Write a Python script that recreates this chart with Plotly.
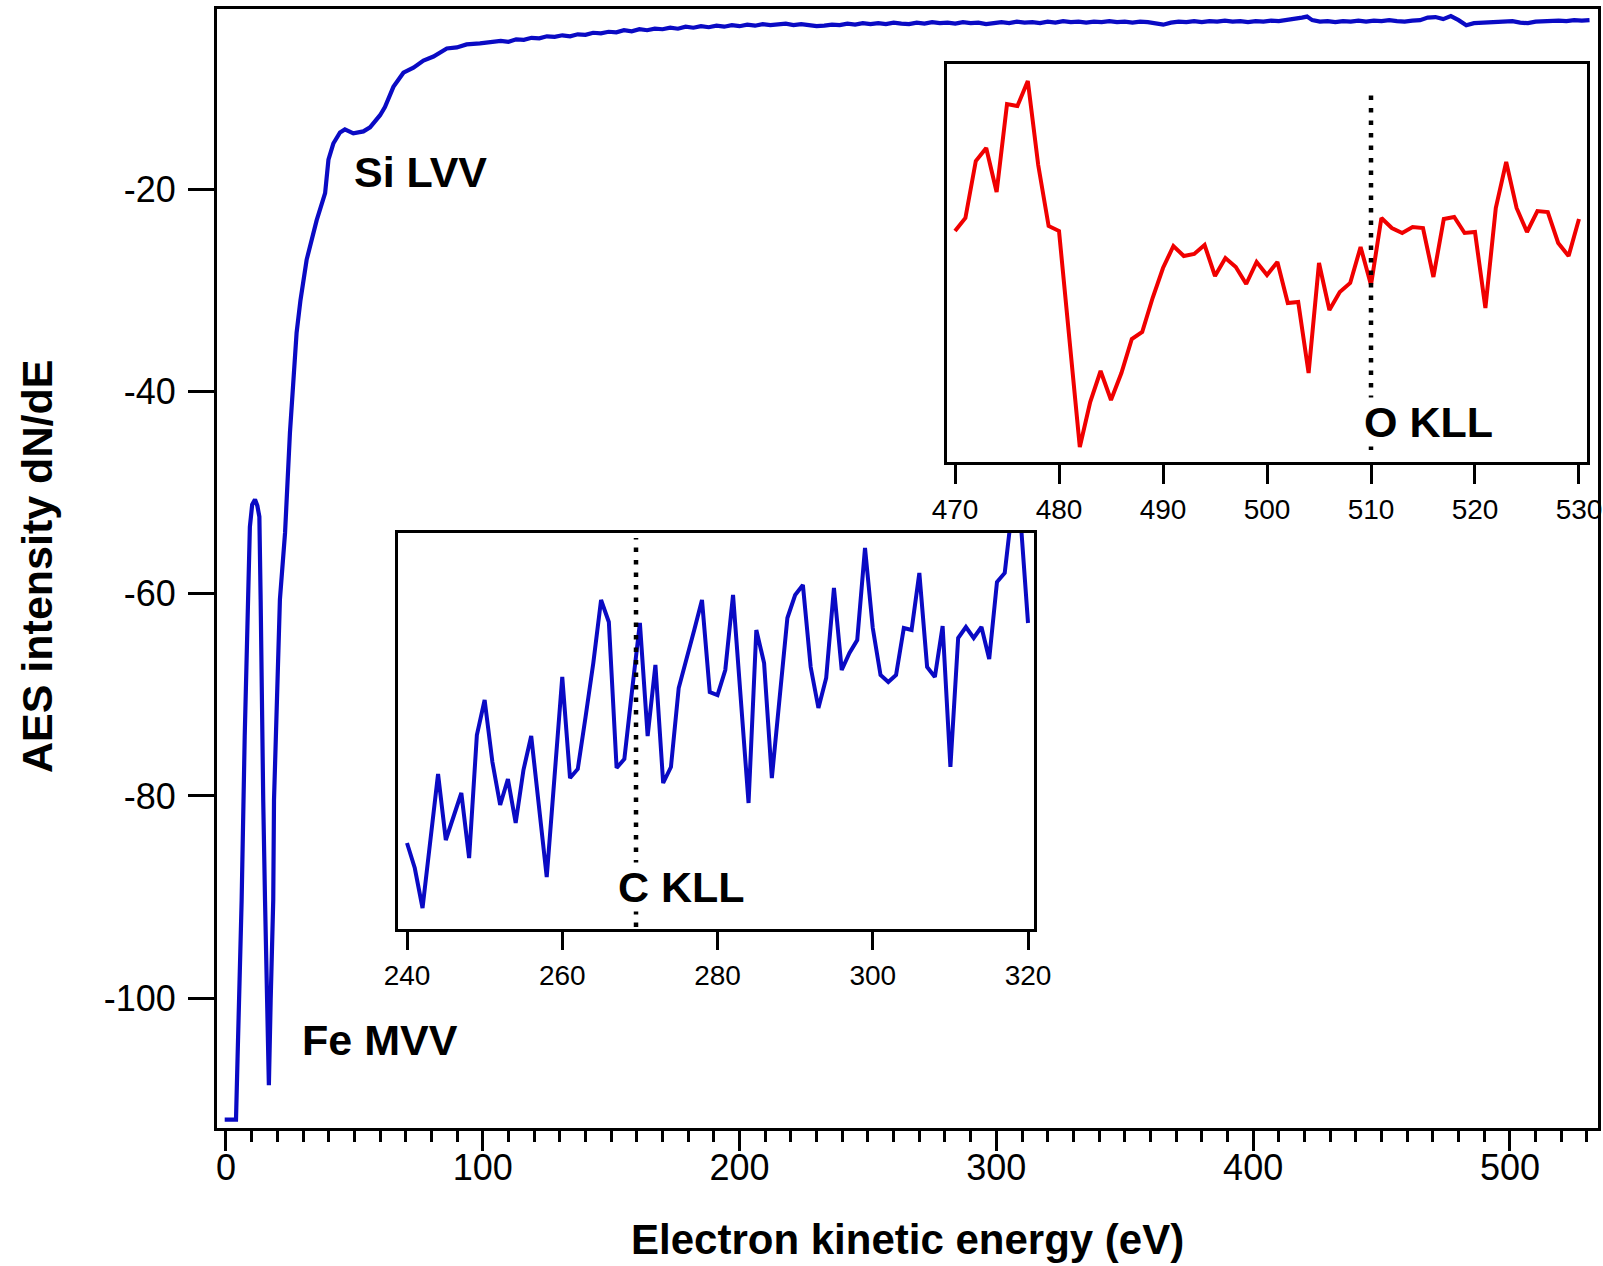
import plotly.graph_objects as go

# ---------------- main spectrum ----------------
main_energy = [-0.5, 2.0, 3.9, 4.5, 5.3, 6.1, 7.3, 8.4, 9.3, 10.2, 11.3, 12.2, 13.0, 13.5, 13.8, 14.5, 15.2,
               15.8, 16.7, 17.4, 18.4, 18.7, 20.0, 21.0, 23.0, 24.9, 27.5, 29.0, 31.4, 35.3, 38.6, 39.9,
               41.8, 44.4, 46.3, 49.6, 53.5, 56.1, 60.0, 61.9, 65.2, 69.1, 73.0, 76.9, 80.8, 86.0, 89.9,
               93.7, 98.9, 104.1,
               107, 110, 113, 116, 119, 122, 125, 128, 131, 134, 137, 140, 143, 146, 149, 152, 155, 158,
               161, 164, 167, 170, 173, 176, 179, 182, 185, 188, 191, 194, 197, 200, 203, 206, 209, 212,
               215, 218, 221, 224, 227, 230, 233, 236, 239, 242, 245, 248, 251, 254, 257, 260, 263, 266,
               269, 272, 275, 278, 281, 284, 287, 290, 293, 296, 299, 302, 305, 308, 311, 314, 317, 320,
               323, 326, 329, 332, 335, 338, 341, 344, 347, 350, 353, 356, 359, 362, 365, 368, 371, 374,
               377, 380, 383, 386, 389, 392, 395, 398, 401, 404, 407, 410, 413, 416, 419, 421, 423, 426,
               429, 432, 435, 438, 441, 444, 447, 450, 453, 456, 459, 462, 465, 468, 471, 474, 477, 480,
               483, 486, 489, 492, 495, 498, 501, 504, 507, 510, 513, 516, 519, 522, 525, 528, 531]
main_intensity = [-112.0, -112.0, -112.0, -106.0, -98.0, -90.3, -74.0, -60.6, -53.4, -51.2, -50.7, -51.3, -52.4,
                  -60.6, -70.5, -80.4, -90.3, -100.2, -108.6, -100.2, -90.3, -80.4, -70.5, -60.6, -54.0,
                  -44.1, -34.2, -31.0, -27.0, -23.1, -20.4, -17.1, -15.5, -14.4, -14.1, -14.5, -14.3,
                  -13.9, -12.7, -11.9, -9.9, -8.5, -8.0, -7.3, -6.9, -6.1, -6.0, -5.7, -5.6, -5.5,
                  -5.35, -5.45, -5.2, -5.25, -5.05, -5.1, -4.9, -4.95, -4.8, -4.9, -4.7, -4.75, -4.55, -4.6,
                  -4.45, -4.5, -4.3, -4.4, -4.2, -4.3, -4.15, -4.2, -4.05, -4.15, -3.95, -4.05, -3.9, -4.0,
                  -3.85, -3.95, -3.8, -3.9, -3.75, -3.85, -3.7, -3.8, -3.75, -3.65, -3.8, -3.7, -3.8, -3.9,
                  -3.85, -3.75, -3.8, -3.65, -3.75, -3.6, -3.7, -3.6, -3.7, -3.55, -3.65, -3.7, -3.55, -3.65,
                  -3.5, -3.6, -3.55, -3.65, -3.5, -3.6, -3.55, -3.7, -3.6, -3.5, -3.6, -3.45, -3.55, -3.5,
                  -3.6, -3.45, -3.55, -3.4, -3.5, -3.45, -3.55, -3.45, -3.5, -3.4, -3.5, -3.45, -3.55, -3.45,
                  -3.5, -3.6, -3.75, -3.55, -3.45, -3.5, -3.4, -3.5, -3.4, -3.45, -3.35, -3.45, -3.4, -3.5,
                  -3.4, -3.45, -3.35, -3.4, -3.3, -3.25, -3.05, -2.95, -3.3, -3.45, -3.4, -3.5, -3.4, -3.45,
                  -3.35, -3.45, -3.35, -3.4, -3.3, -3.4, -3.45, -3.35, -3.3, -3.05, -3.0, -3.2, -2.9, -3.3,
                  -3.8, -3.6, -3.55, -3.5, -3.45, -3.5, -3.4, -3.55, -3.6, -3.45, -3.4, -3.45, -3.35, -3.4,
                  -3.3, -3.35, -3.3]

main_xticks = [0, 100, 200, 300, 400, 500]
main_xticks_mid = [50, 150, 250, 350, 450]
main_yticks = [-20, -40, -60, -80, -100]
main_yticktext = ["-20", "-40", "-60", "-80", "-100"]

# ---------------- O KLL inset (red) ----------------
o_energy = list(range(470, 531))
o_intensity = [23.1, 24.4, 30.1, 31.4, 27.0, 35.8, 35.6, 38.1, 29.7, 23.6,
               23.1, 12.4, 1.5, 6.0, 9.1, 6.2, 8.9, 12.3, 13.0, 16.4,
               19.4, 21.6, 20.6, 20.8, 21.7, 18.6, 20.4, 19.5, 17.8, 20.0,
               18.7, 20.0, 15.9, 16.0, 8.9, 19.9, 15.2, 17.0, 17.9, 21.5,
               17.7, 24.4, 23.4, 22.9, 23.5, 23.4, 18.5, 24.3, 24.5, 22.9,
               23.0, 15.4, 25.4, 30.0, 25.4, 23.0, 25.1, 25.0, 21.9, 20.6,
               24.3]
o_xticks = [470, 480, 490, 500, 510, 520, 530]
o_marker_energy = 510

# ---------------- C KLL inset (blue) ----------------
c_energy = list(range(240, 321))
c_intensity = [8.6, 6.1, 2.1, 8.9, 15.5, 8.9, 11.2, 13.6, 7.1, 19.4,
               22.9, 16.7, 12.4, 15.0, 10.6, 15.9, 19.3, 12.2, 5.2, 15.2,
               25.2, 15.1, 16.0, 21.2, 26.6, 32.9, 30.7, 16.1, 17.0, 23.9,
               30.6, 19.3, 26.4, 14.6, 16.2, 24.1, 26.9, 29.9, 32.9, 23.7,
               23.4, 25.9, 33.4, 22.9, 12.6, 29.9, 26.6, 15.1, 23.1, 31.1,
               33.4, 34.4, 26.2, 22.1, 25.1, 34.1, 25.9, 27.6, 28.9, 38.1,
               30.1, 25.4, 24.7, 25.4, 30.1, 29.9, 35.6, 26.2, 25.2, 30.3,
               16.2, 29.1, 30.2, 29.1, 30.2, 27.0, 34.7, 35.6, 42.4, 41.4,
               30.6]
c_xticks = [240, 260, 280, 300, 320]
c_marker_energy = 269.5

FONT = "Liberation Sans, Arial, Helvetica, sans-serif"
W, H = 1603, 1266

def px_x(p):
    return p / W

def px_y(p):
    return 1 - p / H

fig = go.Figure()

fig.add_trace(go.Scatter(x=main_energy, y=main_intensity, mode="lines",
                         line=dict(color="#0a0ac4", width=4.2), xaxis="x", yaxis="y",
                         showlegend=False, hoverinfo="skip"))

fig.add_trace(go.Scatter(x=o_energy, y=o_intensity, mode="lines",
                         line=dict(color="#f00000", width=4), xaxis="x2", yaxis="y2",
                         showlegend=False))
fig.add_trace(go.Scatter(x=[o_marker_energy, o_marker_energy], y=[1.2, 37.2], mode="lines",
                         line=dict(color="black", width=4.5, dash="4.5px,8px"), xaxis="x2", yaxis="y2",
                         showlegend=False))

fig.add_trace(go.Scatter(x=c_energy, y=c_intensity, mode="lines",
                         line=dict(color="#0a0ac4", width=4), xaxis="x3", yaxis="y3",
                         showlegend=False))
fig.add_trace(go.Scatter(x=[c_marker_energy, c_marker_energy], y=[0.2, 39.1], mode="lines",
                         line=dict(color="black", width=4.5, dash="4.5px,8px"), xaxis="x3", yaxis="y3",
                         showlegend=False))

axis_common = dict(showgrid=False, zeroline=False, showline=True, linecolor="black",
                   linewidth=3, mirror=True, automargin=False)

fig.update_layout(
    width=W, height=H,
    margin=dict(l=0, r=0, t=0, b=0, autoexpand=False),
    paper_bgcolor="white", plot_bgcolor="white",
    font=dict(family=FONT, color="black"),
    xaxis=dict(**axis_common, domain=[px_x(217), px_x(1598)], range=[-3.5, 534.3],
               tickmode="array", tickvals=main_xticks, ticks="outside", ticklen=20,
               tickwidth=3, tickcolor="black", tickfont=dict(size=36, family=FONT),
               ticklabelstandoff=-14,
               minor=dict(tickmode="linear", tick0=0, dtick=10, ticks="outside", ticklen=11,
                          tickwidth=3, tickcolor="black"),
               anchor="y"),
    xaxis4=dict(showgrid=False, zeroline=False, showline=False, overlaying="x", anchor="y",
                automargin=False,
                range=[-3.5, 534.3], tickmode="array", tickvals=main_xticks_mid, ticks="outside",
                ticklen=15, tickwidth=3, tickcolor="black", showticklabels=False, side="bottom"),
    yaxis=dict(**axis_common, domain=[px_y(1128), px_y(9)], range=[-112.83, -2.2],
               tickmode="array", tickvals=main_yticks, ticktext=main_yticktext, ticks="outside",
               ticklen=26, tickwidth=3,
               tickcolor="black", tickfont=dict(size=36, family=FONT), ticklabelstandoff=5,
               anchor="x"),
    xaxis2=dict(**axis_common, domain=[px_x(947), px_x(1587)], range=[469.23, 530.77],
                tickmode="array", tickvals=o_xticks, ticks="outside", ticklen=19, tickwidth=3,
                tickcolor="black", tickfont=dict(size=28, family=FONT), ticklabelstandoff=1,
                anchor="y2"),
    yaxis2=dict(**axis_common, domain=[px_y(462), px_y(64)], range=[0, 39.8],
                ticks="", showticklabels=False, anchor="x2"),
    xaxis3=dict(**axis_common, domain=[px_x(398), px_x(1034)], range=[238.84, 320.77],
                tickmode="array", tickvals=c_xticks, ticks="outside", ticklen=18, tickwidth=3,
                tickcolor="black", tickfont=dict(size=28, family=FONT), ticklabelstandoff=1,
                anchor="y3"),
    yaxis3=dict(**axis_common, domain=[px_y(929), px_y(533)], range=[0, 39.6],
                ticks="", showticklabels=False, anchor="x3"),
)

label_font = dict(family=FONT, size=43, color="black", weight="bold")

fig.add_annotation(x=49.1, y=-18.3, xref="x", yref="y", text="<b>Si LVV</b>", showarrow=False,
                   xanchor="left", yanchor="middle", font=label_font)
fig.add_annotation(x=28.8, y=-104.1, xref="x", yref="y", text="<b>Fe MVV</b>", showarrow=False,
                   xanchor="left", yanchor="middle", font=label_font)
fig.add_annotation(x=509.2, y=4.0, xref="x2", yref="y2", text="<b>O KLL</b>", showarrow=False,
                   xanchor="left", yanchor="middle", font=label_font, bgcolor="white", borderpad=0)
fig.add_annotation(x=267.1, y=4.2, xref="x3", yref="y3", text="<b>C KLL</b>", showarrow=False,
                   xanchor="left", yanchor="middle", font=label_font, bgcolor="white", borderpad=0)

fig.add_annotation(x=px_x(907), y=px_y(1239), xref="paper", yref="paper",
                   text="<b>Electron kinetic energy (eV)</b>", showarrow=False,
                   xanchor="center", yanchor="middle", font=dict(family=FONT, size=42, color="black"))
fig.add_annotation(x=px_x(37), y=px_y(567), xref="paper", yref="paper",
                   text="<b>AES intensity dN/dE</b>", showarrow=False, textangle=-90,
                   xanchor="center", yanchor="middle", font=dict(family=FONT, size=43, color="black"))

fig.write_html("out.html")
